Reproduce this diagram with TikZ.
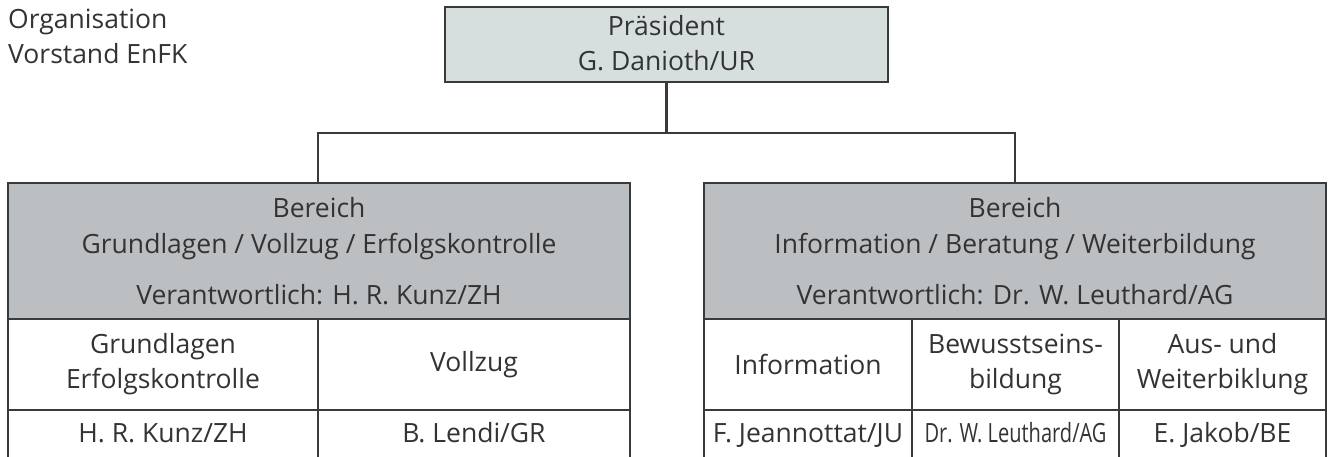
\documentclass[tikz,border=0pt]{standalone}
\usepackage{fontspec}
\usepackage{graphicx}
\setmainfont{Open Sans}
\definecolor{ln}{HTML}{3A3A3A}
\definecolor{txt}{HTML}{333333}
\definecolor{presfill}{HTML}{D7DFDE}
\definecolor{headfill}{HTML}{BCBFC2}
\begin{document}
\begin{tikzpicture}[x=1pt,y=-1pt,
  font=\fontsize{26.5}{35}\selectfont, text=txt,
  frame/.style={draw=ln, line width=2.2pt, inner sep=0pt, outer sep=0pt},
  presbox/.style={frame, line width=2.6pt, fill=presfill},
  headbox/.style={frame, fill=headfill},
  cellbox/.style={frame, fill=white, align=center},
  lbl/.style={anchor=base, inner sep=0pt},
  conn/.style={draw=ln, line width=2.2pt}]
\useasboundingbox (0,0) rectangle (1328,456);
\clip (0,0) rectangle (1328,456);

% title
\node[lbl, anchor=base west] (title1) at (8,28) {Organisation};
\node[lbl, anchor=base west] (title2) at (8,63) {Vorstand EnFK};

% president
\node[presbox, minimum width=443pt, minimum height=75pt] (pres) at (666.5,44.5) {};
\node[lbl] (pres1) at (666.5,35) {Präsident};
\node[lbl] (pres2) at (666.5,70) {G. Danioth/UR};

% header boxes
\node[headbox, minimum width=622pt, minimum height=136pt] (lh) at (319,251) {};
\node[lbl] (lh1) at (319,217) {Bereich};
\node[lbl] (lh2) at (319,253) {Grundlagen / Vollzug / Erfolgskontrolle};
\node[lbl] (lh3) at (319,304) {Verantwortlich: H. R. Kunz/ZH};

\node[headbox, minimum width=622pt, minimum height=136pt] (rh) at (1015,251) {};
\node[lbl] (rh1) at (1015,217) {Bereich};
\node[lbl] (rh2) at (1015,253) {Information / Beratung / Weiterbildung};
\node[lbl] (rh3) at (1015,304) {Verantwortlich: Dr. W. Leuthard/AG};

% connectors
\coordinate (bus) at (666.5,133);
\draw[conn] (pres.south) -- (bus);
\draw[conn] (lh.north -| 318,0) |- (bus) -| (rh.north);

% left table
\node[cellbox, minimum width=310pt, minimum height=91pt] (l11) at (163,364.5) {Grundlagen\\Erfolgskontrolle};
\node[cellbox, minimum width=312pt, minimum height=91pt] (l12) at (474,364.5) {Vollzug};
\node[frame, minimum width=310pt, minimum height=70pt] (l21) at (163,445) {};
\node[frame, minimum width=312pt, minimum height=70pt] (l22) at (474,445) {};
\node[lbl] (l21t) at (163,442) {H. R. Kunz/ZH};
\node[lbl] (l22t) at (474,442) {B. Lendi/GR};

% right table
\node[cellbox, minimum width=208pt, minimum height=91pt] (r11) at (808,364.5) {Information};
\node[cellbox, minimum width=207pt, minimum height=91pt] (r12) at (1015.5,364.5) {Bewusstseins-\\bildung};
\node[cellbox, minimum width=207pt, minimum height=91pt] (r13) at (1222.5,364.5) {Aus- und\\Weiterbiklung};
\node[frame, minimum width=208pt, minimum height=70pt] (r21) at (808,445) {};
\node[frame, minimum width=207pt, minimum height=70pt] (r22) at (1015.5,445) {};
\node[frame, minimum width=207pt, minimum height=70pt] (r23) at (1222.5,445) {};
\node[lbl] (r21t) at (808,442) {F. Jeannottat/JU};
\node[lbl] (r22t) at (1015.5,442) {\resizebox{182pt}{\height}{Dr. W. Leuthard/AG}};
\node[lbl] (r23t) at (1222.5,442) {E. Jakob/BE};
\end{tikzpicture}
\end{document}
